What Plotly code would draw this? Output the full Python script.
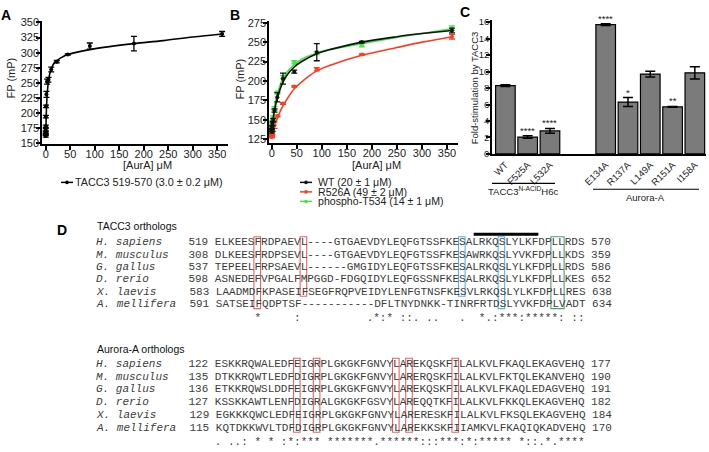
import plotly.graph_objects as go

W, H = 709, 452
def px(x): return x / W
def py(y): return 1 - y / H

SANS = "Liberation Sans, Arial, sans-serif"
MONO = "Liberation Mono, Courier New, monospace"
TXT = "#222222"

# ---------------- Panel A data ----------------
a_conc = [360, 180, 90, 45, 22.5, 11.25, 5.625, 2.8125, 1.406, 0.703, 0.352, 0.176, 0.088, 0.044, 0.022, 0.011]
a_fp = [331, 315, 311, 297, 285, 272, 255, 252, 231, 211, 194, 178, 172, 168, 165, 162]
a_err = [4, 12, 5, 1, 2, 4, 4, 4, 5, 2, 2, 2, 2, 2, 2, 2]
a_fit_x = [0, 0.5, 1, 2, 3, 4, 6, 8, 11, 15, 20, 30, 45, 60, 90, 130, 180, 240, 300, 360]
a_fit_y = [160, 180, 195, 217, 231, 241, 255, 264, 272, 280, 285, 291, 297, 300, 305, 310, 315, 320, 326, 331]
a_label = "TACC3 519-570 (3.0 ± 0.2 μM)"

# ---------------- Panel B data ----------------
b_conc = [360, 180, 90, 45, 22.5, 11.25, 5.625, 2.8125, 1.406, 0.703, 0.352, 0.176]
b_wt = [265, 250, 237, 212, 203, 179, 162, 150, 145, 140, 137, 135]
b_wt_err = [3, 1, 11, 2, 7, 6, 2, 2, 2, 2, 2, 2]
b_r526a = [257, 234, 215, 193, 171, 155, 143, 137, 133, 130, 129, 128]
b_r526a_err = [3, 1, 2, 1, 1, 1, 4, 2, 2, 1, 1, 1]
b_pt534 = [268, 246, 236, 224, 205, 185, 165, 153, 147, 142, 140, 138]
b_pt534_err = [3, 2, 2, 2, 2, 2, 2, 2, 2, 2, 2, 2]
b_fit_x = [0, 5, 10, 20, 30, 45, 60, 90, 120, 180, 250, 300, 360]
b_fit_wt = [135, 160, 175, 195, 207, 218, 225, 235, 241, 250, 257, 261, 265]
b_fit_pt534 = [138, 165, 180, 200, 211, 221, 228, 236, 241, 248, 256, 261, 267]
b_fit_r526a = [128, 140, 150, 165, 176, 190, 199, 213, 221, 233, 243, 250, 257]
b_labels = ["WT (20 ± 1 μM)", "R526A (49 ± 2 μM)", "phospho-T534 (14 ± 1 μM)"]

# ---------------- Panel C data ----------------
c_cats = ["WT", "F525A", "L532A", "E134A", "R137A", "L149A", "R151A", "I158A"]
c_group = [0, 0, 0, 1, 1, 1, 1, 1]
c_vals = [8.3, 2.05, 2.8, 15.7, 6.3, 9.7, 5.72, 9.85]
c_err = [0.1, 0.15, 0.3, 0.1, 0.55, 0.35, 0.05, 0.75]
c_stars = ["", "****", "****", "****", "*", "", "**", ""]
c_group_labels = ["TACC3<sup>N-ACID</sup>H6c", "Aurora-A"]

# ---------------- Panel D data ----------------
species = ["H. sapiens", "M. musculus", "G. gallus", "D. rerio", "X. laevis", "A. mellifera"]
tacc3_start = [519, 308, 537, 598, 583, 591]
tacc3_end = [570, 359, 586, 652, 638, 634]
tacc3_seq = [
    "ELKEESFRDPAEVL----GTGAEVDYLEQFGTSSFKESALRKQSLYLKFDPLLRDS",
    "DLKEESFRDPSEVL----GTGAEVDYLEQFGTSSFKESAWRKQSLYVKFDPLLKDS",
    "TEPEELFRPSAEVL------GMGIDYLEQFGTSSFKESALRKQSLYLKFDPLLRDS",
    "ASNEDEFVPGALFMPGGD-FDGQIDYLEQFGSSNFKESALRKQSLYLKFDPLLKES",
    "LAADMDFKPASEIFSEGFRQPVEIDYLENFGTNSFKESVLRKQSLYLKFDPLLRES",
    "SATSEIFQDPTSF-----------DFLTNYDNKK-TINRFRTDSLYVKFDPLVADT",
]
tacc3_cons = "      *     :          .*:* ::. ..   .  *.:***:*****: ::"
aur_start = [122, 135, 136, 127, 129, 115]
aur_end = [177, 190, 191, 182, 184, 170]
aur_seq = [
    "ESKKRQWALEDFEIGRPLGKGKFGNVYLAREKQSKFILALKVLFKAQLEKAGVEHQ",
    "DTKKRQWTLEDFDIGRPLGKGKFGNVYLARERQSKFILALKVLFKTQLEKANVEHQ",
    "ETKKRQWSLDDFEIGRPLGKGKFGNVYLAREKQSKFILALKVLFKAQLEDAGVEHQ",
    "KSSKKAWTLENFDIGRALGKGKFGSVYLAREQQTKFILALKVLFKKQLEKAGVEHQ",
    "EGKKKQWCLEDFEIGRPLGKGKFGNVYLARERESKFILALKVLFKSQLEKAGVEHQ",
    "KQTDKKWVLTDFDIGRPLGKGKFGNVYLAREKKSKFIIAMKVLFKAQIQKADVEHQ",
]
aur_cons = ". ..: * * :*:*** *******.******:::***:*:***** *::.*.****"
# highlighted columns: (first col, n cols, first row, last row, colour)
tacc3_boxes = [(6, 1, 0, 5, "red"), (13, 1, 0, 4, "red"), (37, 1, 0, 4, "blue"),
               (43, 1, 0, 5, "blue"), (51, 2, 0, 5, "green")]
aur_boxes = [(12, 1, 0, 5, "red"), (15, 1, 0, 5, "red"), (27, 1, 0, 5, "red"),
             (29, 1, 0, 5, "red"), (36, 1, 0, 5, "red")]
box_colors = {"red": "#e06666", "blue": "#5ab4de", "green": "#4a9e74"}

fig = go.Figure()

# ---- Panel A traces
fig.add_trace(go.Scatter(x=a_fit_x, y=a_fit_y, mode="lines", line=dict(color="black", width=1.6, shape="spline"),
                         xaxis="x", yaxis="y", hoverinfo="skip"))
fig.add_trace(go.Scatter(x=a_conc, y=a_fp, mode="markers", marker=dict(color="black", size=4),
                         error_y=dict(type="data", array=a_err, color="black", thickness=1.3, width=3),
                         xaxis="x", yaxis="y"))

# ---- Panel B traces
b_series = [(b_fit_r526a, b_r526a, b_r526a_err, "#ff3b22"),
            (b_fit_pt534, b_pt534, b_pt534_err, "#3ee83e"),
            (b_fit_wt, b_wt, b_wt_err, "#111111")]
for fit, vals, err, col in b_series:
    fig.add_trace(go.Scatter(x=b_fit_x, y=fit, mode="lines", line=dict(color=col, width=1.6, shape="spline"),
                             xaxis="x2", yaxis="y2", hoverinfo="skip"))
    fig.add_trace(go.Scatter(x=b_conc, y=vals, mode="markers", marker=dict(color=col, size=4),
                             error_y=dict(type="data", array=err, color=col, thickness=1.3, width=3),
                             xaxis="x2", yaxis="y2"))

# ---- Panel C traces
GAP = 1.5
c_x = [i + GAP * g for i, g in enumerate(c_group)]
fig.add_trace(go.Bar(x=c_x, y=c_vals, width=0.88,
                     marker=dict(color="#7b7b7b", line=dict(color="black", width=1.2)),
                     error_y=dict(type="data", array=c_err, color="black", thickness=1.5, width=5),
                     xaxis="x3", yaxis="y3"))

axis_common = dict(showline=True, linecolor="black", linewidth=1.5, ticks="outside", ticklen=4,
                   tickwidth=1.5, tickcolor="black", showgrid=False, zeroline=False,
                   tickfont=dict(family=SANS, size=11, color=TXT))
xstand = dict(ticklabelstandoff=-5)
ystand = dict(ticklabelstandoff=-5)

fig.update_layout(
    width=W, height=H, margin=dict(l=0, r=0, t=0, b=0),
    paper_bgcolor="white", plot_bgcolor="white", showlegend=False,
    xaxis=dict(domain=[px(42), px(228)], range=[-7.6, 372], anchor="y",
               tickvals=list(range(0, 351, 50)), **axis_common, **xstand),
    yaxis=dict(domain=[py(143), py(17)], range=[148.4, 353], anchor="x",
               tickvals=list(range(150, 351, 25)), **axis_common, **ystand),
    xaxis2=dict(domain=[px(269), px(458)], range=[-5.4, 372], anchor="y2",
                tickvals=list(range(0, 351, 50)), **axis_common, **xstand),
    yaxis2=dict(domain=[py(142), py(17)], range=[120, 277.6], anchor="x2",
                tickvals=list(range(125, 276, 25)), **axis_common, **ystand),
    xaxis3=dict(domain=[px(492), px(706)], range=[-0.6, 9.0], anchor="y3",
                tickvals=c_x, ticktext=c_cats, tickangle=-45,
                **{**axis_common, "tickfont": dict(family=SANS, size=9.5, color=TXT), "ticks": ""}),
    yaxis3=dict(domain=[py(153), py(16)], range=[0, 16.3], anchor="x3",
                tickvals=list(range(0, 17, 2)),
                **{**axis_common, "tickfont": dict(family=SANS, size=9.5, color=TXT)}, **ystand),
)

ann = []
shapes = []

def text(x, y, t, size=11, xanchor="center", yanchor="middle", family=SANS, color=TXT, angle=0, bold=False):
    ann.append(dict(x=px(x), y=py(y), xref="paper", yref="paper", text=(f"<b>{t}</b>" if bold else t),
                    showarrow=False, xanchor=xanchor, yanchor=yanchor, textangle=angle,
                    font=dict(family=family, size=size, color=color), borderpad=0, borderwidth=0))

def hline(x0, x1, y, color="black", width=1.2):
    shapes.append(dict(type="line", xref="paper", yref="paper", x0=px(x0), x1=px(x1), y0=py(y), y1=py(y),
                       line=dict(color=color, width=width)))

def legend_sym(x, y, color):
    hline(x, x + 12, y, color=color, width=1.5)
    r = 1.8
    shapes.append(dict(type="circle", xref="paper", yref="paper", x0=px(x + 6 - r), x1=px(x + 6 + r),
                       y0=py(y + r), y1=py(y - r), fillcolor=color, line=dict(color=color, width=0)))

# panel letters
text(6, 11, "A", size=14, bold=True, color="black")
text(235, 11, "B", size=14, bold=True, color="black")
text(465, 8, "C", size=14, bold=True, color="black")
text(62, 231, "D", size=14, bold=True, color="black")

# axis titles
text(147, 164.5, "[AurA] μM")
text(377, 164.5, "[AurA] μM")
text(11, 76, "FP (mP)", angle=-90)
text(240, 76, "FP (mP)", angle=-90)
text(474, 86, "Fold-stimulation by TACC3", size=9.5, angle=-90)

# legends
legend_sym(61, 182, "black")
text(75, 182, a_label, xanchor="left", size=10.8)
for i, (lab, col) in enumerate(zip(b_labels, ["#111111", "#ff3b22", "#3ee83e"])):
    yy = 182 + i * 9.7
    legend_sym(300, yy, col)
    text(318, yy, lab, xanchor="left", size=10.6)

# C stars
for xv, v, e, s in zip(c_x, c_vals, c_err, c_stars):
    if s:
        ann.append(dict(x=xv, y=v + e, xref="x3", yref="y3", text=s, showarrow=False, yanchor="bottom",
                        yshift=0, font=dict(family=SANS, size=9.5, color=TXT), borderpad=0, borderwidth=0))
# C group labels
hline(492, 555, 183, width=1.2)
text(523, 191, c_group_labels[0], size=9.5)
hline(593, 699, 189, width=1.2)
text(645, 197, c_group_labels[1], size=9.5)

# ---- Panel D alignments
NB = "\u00a0"
CW = 6.6
X0 = 95.5
SEQ_X = X0 + 18 * CW
ALN_COLOR = "#3c3c3c"

def row_text(name, start, seq, end):
    pad = NB * (14 - len(name))
    return f"<i>{name.replace(' ', NB)}</i>" + pad + f"{start:>3}".replace(" ", NB) + NB + seq + NB + str(end)

def block(header, header_y, y0, step, starts, seqs, ends, cons, boxes):
    text(X0 + 1, header_y, header, size=10.5, xanchor="left", color="#111111")
    for i in range(6):
        text(X0, y0 + i * step, row_text(species[i], starts[i], seqs[i], ends[i]), size=11,
             xanchor="left", family=MONO, color=ALN_COLOR)
    text(X0, y0 + 6 * step + 1, NB * 18 + cons.replace(" ", NB), size=11, xanchor="left",
         family=MONO, color=ALN_COLOR)
    for c, n, r0, r1, col in boxes:
        shapes.append(dict(type="rect", xref="paper", yref="paper",
                           x0=px(SEQ_X + c * CW), x1=px(SEQ_X + (c + n) * CW),
                           y0=py(y0 + r1 * step + 4.5), y1=py(y0 + r0 * step - 5.5),
                           line=dict(color=box_colors[col], width=1.1)))

block("TACC3 orthologs", 227, 243, 12.66, tacc3_start, tacc3_seq, tacc3_end, tacc3_cons, tacc3_boxes)
block("Aurora-A orthologs", 352, 367, 13.1, aur_start, aur_seq, aur_end, aur_cons, aur_boxes)
# black bar over the TACC3 helix region
hline(SEQ_X + 39.3 * CW, SEQ_X + 49.1 * CW, 235, width=3)

fig.update_layout(annotations=ann, shapes=shapes)
fig.write_html("out.html", config={"displayModeBar": False},
               post_script="document.body.style.margin='0';document.body.style.overflow='hidden';")
